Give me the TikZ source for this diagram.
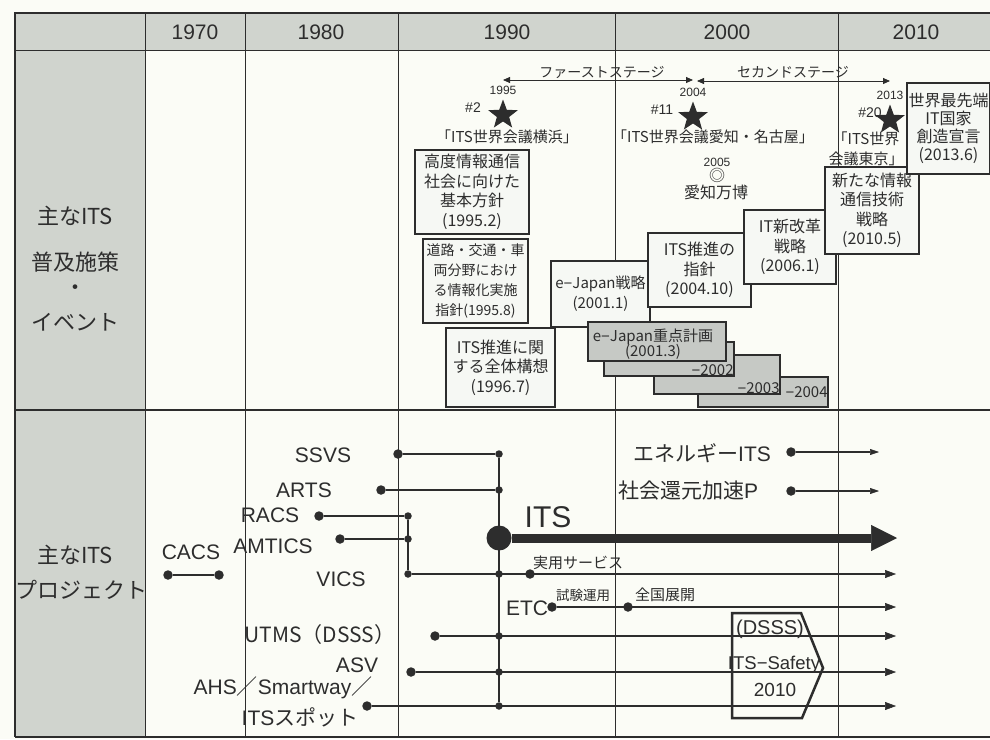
\documentclass[tikz,border=0pt]{standalone}
\usepackage{fontspec}
\usepackage{tikz}
\usetikzlibrary{arrows.meta,shapes.geometric}
\setmainfont{Liberation Sans}
\newfontfamily\jp{Noto Sans CJK JP}
\newcommand{\lmin}{{\rmfamily −}}
\definecolor{ink}{RGB}{45,45,45}
\definecolor{paper}{RGB}{251,252,246}
\definecolor{cellgray}{RGB}{208,212,206}
\definecolor{boxfill}{RGB}{246,248,244}
\definecolor{stackfill}{RGB}{198,201,197}

\begin{document}
\begin{tikzpicture}[x=1pt,y=-1pt,
    every node/.style={text=ink},
    yearlbl/.style={font=\fontsize{21}{24}\selectfont},
    sidelbl/.style={font=\jp\fontsize{22}{26}\selectfont,inner sep=0pt},
    evbox/.style={draw=ink,line width=1.6pt,fill=boxfill,align=center,inner sep=0pt,
      font=\jp\fontsize{16}{19.5}\selectfont},
    stackbox/.style={draw=ink,line width=1.6pt,fill=stackfill,inner sep=0pt},
    stacklbl/.style={font=\jp\fontsize{15}{17}\selectfont,inner sep=1pt},
    evstar/.style={star,star points=5,star point ratio=2.4,fill=ink,minimum size=31pt,inner sep=0pt},
    yrsmall/.style={font=\fontsize{12}{14}\selectfont,inner sep=0pt},
    evno/.style={font=\fontsize{14}{16}\selectfont,inner sep=0pt},
    evname/.style={font=\jp\fontsize{15}{20}\selectfont,inner sep=0pt,align=center},
    stagearr/.style={draw=ink,line width=0.8pt,{Triangle[length=7pt,width=6pt]}-{Triangle[length=7pt,width=6pt]}},
    stagelbl/.style={font=\jp\fontsize{14}{16}\selectfont,inner sep=0pt},
    prjlbl/.style={font=\fontsize{21}{24}\selectfont,inner sep=0pt},
    smalljp/.style={font=\jp\fontsize{15}{17}\selectfont,inner sep=0pt},
    pline/.style={draw=ink,line width=2.4pt},
    arr/.style={-{Triangle[length=11pt,width=8pt,line width=0.5pt]}},
    dot/.style={circle,fill=ink,minimum size=9.5pt,inner sep=0pt},
    jdot/.style={circle,fill=ink,minimum size=7.5pt,inner sep=0pt}]
  \useasboundingbox (0,0) rectangle (990,739);
  \fill[paper] (0,0) rectangle (990,739);
  \fill[cellgray] (15,13) rectangle (145,737);
  \fill[cellgray] (145,13) rectangle (990,50);
  \foreach \x in {145,245,398,615,838}
    \draw[ink,line width=1pt] (\x,13) -- (\x,737);
  \draw[ink,line width=1.5pt] (990,13) -- (15,13) -- (15,737);
  \draw[ink,line width=2pt] (15,737) -- (990,737);
  \draw[ink,line width=1pt] (15,50) -- (990,50);
  \draw[ink,line width=1.3pt] (15,410) -- (990,410);
  \foreach \yr/\x in {1970/195,1980/321,1990/507,2000/727,2010/916}
    \node[yearlbl] (yr\yr) at (\x,32) {\yr};
  \foreach \t/\y [count=\k] in {主なITS/216,普及施策/262,・/290,イベント/322}
    \node[sidelbl] (side\k) at (75,\y) {\t};
  \node[sidelbl] (prj1) at (75,555) {主なITS};
  \node[sidelbl] (prj2) at (82,590) {プロジェクト};

  \coordinate (s1l) at (503,80);
  \coordinate (s1r) at (693,80);
  \coordinate (s2l) at (697,81);
  \coordinate (s2r) at (890,81);
  \draw[stagearr] (s1l) -- (s1r);
  \draw[stagearr] (s2l) -- (s2r);
  \node[stagelbl] (stg1) at (602,72) {ファーストステージ};
  \node[stagelbl] (stg2) at (793,72) {セカンドステージ};

  \foreach \n/\yr/\no/\x/\y/\nx in {1/1995/2/503/115/473,2/2004/11/693/117/662,3/2013/20/890/120/870} {
    \node[yrsmall] (wcyr\n) at (\x,\y-25) {\yr};
    \node[evno] (wcno\n) at (\nx,\y-7) {\#\no};
    \node[evstar] (star\n) at (\x,\y) {};
  }
  \node[evname] (wc1) at (507,137) {「ITS世界会議横浜」};
  \node[evname] (wc2) at (713,137) {「ITS世界会議愛知・名古屋」};
  \node[evname] (wc3) at (866,149) {「ITS世界\\会議東京」};
  \node[yrsmall] (yr2005) at (717,162) {2005};
  \node[font=\jp\fontsize{16}{18}\selectfont,inner sep=0pt] (expomark) at (717,175) {◎};
  \node[font=\jp\fontsize{16}{18}\selectfont,inner sep=0pt] (expo) at (716,192) {愛知万博};

  \node[evbox,minimum width=114,minimum height=84] (kihon) at (472,192) {高度情報通信\\社会に向けた\\基本方針\\(1995.2)};
  \node[evbox,minimum width=105,minimum height=84,font=\jp\fontsize{14}{20}\selectfont] (douro) at (475.5,281) {道路・交通・車\\両分野におけ\\る情報化実施\\指針(1995.8)};
  \node[evbox,minimum width=109,minimum height=79] (zentai) at (500.5,367.5) {ITS推進に関\\する全体構想\\(1996.7)};
  \node[evbox,minimum width=99,minimum height=66,font=\jp\fontsize{15}{20}\selectfont] (ejapan) at (600.5,294) {e\lmin Japan戦略\\(2001.1)};
  \node[evbox,minimum width=103,minimum height=74] (shishin) at (699.5,270) {ITS推進の\\指針\\(2004.10)};
  \node[evbox,minimum width=92,minimum height=74] (kaikaku) at (790,247) {IT新改革\\戦略\\(2006.1)};
  \node[evbox,minimum width=94,minimum height=87] (shin) at (872,210.5) {新たな情報\\通信技術\\戦略\\(2010.5)};
  \node[evbox,minimum width=83,minimum height=91,font=\jp\fontsize{16}{18}\selectfont] (sekai) at (948.5,128.5) {世界最先端\\IT国家\\創造宣言\\(2013.6)};

  \node[stackbox,minimum width=130,minimum height=30] (g4) at (763,392) {};
  \node[stackbox,minimum width=126,minimum height=39] (g3) at (717,374.5) {};
  \node[stackbox,minimum width=130,minimum height=34] (g2) at (669,359) {};
  \node[stackbox,minimum width=138,minimum height=39] (g1) at (657,341.5) {};
  \node[stacklbl] (g1a) at (653,337) {e\lmin Japan重点計画};
  \node[stacklbl] (g1b) at (653,352) {(2001.3)};
  \node[stacklbl,anchor=south east] (g2l) at (g2.south east) {\lmin 2002};
  \node[stacklbl,anchor=south east] (g3l) at (g3.south east) {\lmin 2003};
  \node[stacklbl,anchor=east] (g4l) at (g4.east) {\lmin 2004};

  \foreach \y [count=\k] in {454,490,574,636,672,706}
    \node[jdot] (j\k) at (499,\y) {};
  \draw[pline] (j1) -- (j6);
  \foreach \y [count=\k] in {516,539,574}
    \node[jdot] (k\k) at (408,\y) {};
  \draw[pline] (k1) -- (k3);
  \foreach \n/\x/\y/\tgt in {ssvs/398/454/j1,arts/381/490/j2,racs/319/516/k1,amtics/340/539/k2} {
    \node[dot] (\n) at (\x,\y) {};
    \draw[pline] (\n) -- (\tgt);
  }
  \node[dot] (cacsA) at (168,575) {};
  \node[dot] (cacsB) at (219,575) {};
  \draw[pline] (cacsA) -- (cacsB);
  \foreach \n/\x/\y in {etc/552/607,utms/435/636,asv/411/672,ahs/367/706} {
    \node[dot] (\n) at (\x,\y) {};
    \coordinate (\n E) at (896,\y);
    \draw[pline,arr] (\n) -- (\n E);
  }
  \coordinate (vicsE) at (896,574);
  \draw[pline,arr] (k3) -- (vicsE);
  \node[dot] (jitsuyo) at (530,574) {};
  \node[dot] (zenkoku) at (628,607) {};
  \foreach \n/\y in {ene/452,shakai/491} {
    \node[dot] (\n) at (791,\y) {};
    \coordinate (\n E) at (879,\y);
    \draw[pline,line width=1.8pt,-{Triangle[length=9pt,width=6pt,line width=0.5pt]}] (\n) -- (\n E);
  }
  \node[circle,fill=ink,minimum size=25pt,inner sep=0pt] (itsdot) at (499,538) {};
  \coordinate (itsE) at (897,538);
  \draw[ink,line width=9pt,-{Triangle[length=26pt,width=26pt,line width=0.5pt]}] (itsdot) -- (itsE);

  \foreach \n/\t/\x/\y in {ssvsl/SSVS/323/455,artsl/ARTS/304/490,racsl/RACS/270/515,amticsl/AMTICS/273/546,
      cacsl/CACS/191/552,vicsl/VICS/341/579,asvl/ASV/357/665,etcl/ETC/527/608}
    \node[prjlbl] (\n) at (\x,\y) {\t};
  \node[prjlbl] (utmsl) at (320,635) {\jp UTMS（DSSS）};
  \node[prjlbl] (ahsl) at (283,688) {AHS{\jp ／}Smartway{\jp ／}};
  \node[prjlbl] (spotl) at (300,717) {ITS{\jp スポット}};
  \node[prjlbl] (enel) at (702,453) {{\jp エネルギー}ITS};
  \node[prjlbl] (shakail) at (688,491) {{\jp 社会還元加速}P};
  \node[font=\fontsize{30}{34}\selectfont,inner sep=0pt] (itsl) at (548,517) {ITS};
  \node[smalljp] (jitsuyol) at (578,563) {実用サービス};
  \node[smalljp,font=\jp\fontsize{13.5}{16}\selectfont] (shikenl) at (583,595) {試験運用};
  \node[smalljp] (zenkokul) at (665,595) {全国展開};

  \coordinate (sf1) at (732,613);
  \coordinate (sf2) at (801,613);
  \coordinate (sf3) at (823,668);
  \coordinate (sf4) at (802,718);
  \coordinate (sf5) at (732,718);
  \draw[ink,line width=2.5pt,line join=miter] (sf1) -- (sf2) -- (sf3) -- (sf4) -- (sf5) -- cycle;
  \node[font=\fontsize{20}{22}\selectfont,inner sep=0pt] (dsssl) at (770,629) {(DSSS)};
  \node[font=\fontsize{18.5}{22}\selectfont,inner sep=0pt] (safetyl) at (774,665) {ITS−Safety};
  \node[font=\fontsize{19}{22}\selectfont,inner sep=0pt] (safyr) at (775,690) {2010};
\end{tikzpicture}
\end{document}
